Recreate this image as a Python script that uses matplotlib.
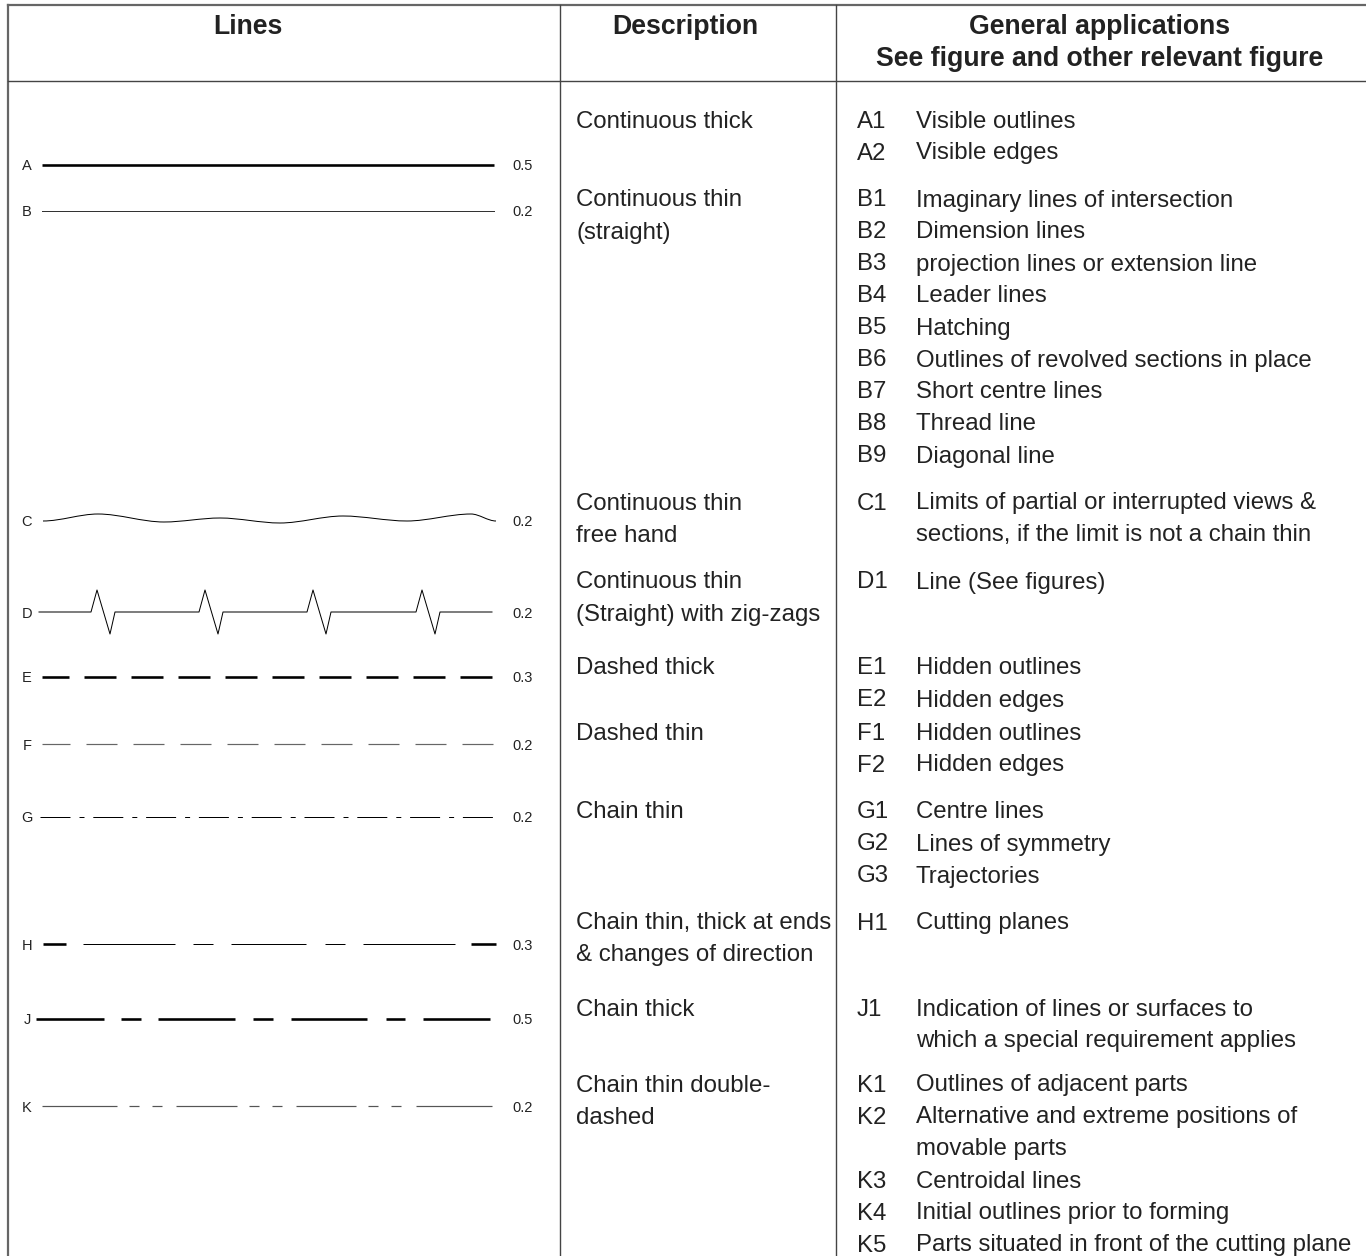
import numpy as np
import matplotlib
matplotlib.use("Agg")
import matplotlib.pyplot as plt
from matplotlib.path import Path
from matplotlib.patches import PathPatch

plt.rcParams['font.family'] = ['Liberation Sans', 'DejaVu Sans']
plt.rcParams['lines.scale_dashes'] = False

# ---------------- data ----------------
line_codes = ['A', 'B', 'C', 'D', 'E', 'F', 'G', 'H', 'J', 'K']
line_weights = ['0.5', '0.2', '0.2', '0.2', '0.3', '0.2', '0.2', '0.3', '0.5', '0.2']

descriptions = [
    ['Continuous thick'],
    ['Continuous thin', '(straight)'],
    ['Continuous thin', 'free hand'],
    ['Continuous thin', '(Straight) with zig-zags'],
    ['Dashed thick'],
    ['Dashed thin'],
    ['Chain thin'],
    ['Chain thin, thick at ends', '& changes of direction'],
    ['Chain thick'],
    ['Chain thin double-', 'dashed'],
]

applications = [
    [('A1', 'Visible outlines'), ('A2', 'Visible edges')],
    [('B1', 'Imaginary lines of intersection'), ('B2', 'Dimension lines'),
     ('B3', 'projection lines or extension line'), ('B4', 'Leader lines'),
     ('B5', 'Hatching'), ('B6', 'Outlines of revolved sections in place'),
     ('B7', 'Short centre lines'), ('B8', 'Thread line'), ('B9', 'Diagonal line')],
    [('C1', 'Limits of partial or interrupted views &'),
     ('', 'sections, if the limit is not a chain thin')],
    [('D1', 'Line (See figures)')],
    [('E1', 'Hidden outlines'), ('E2', 'Hidden edges')],
    [('F1', 'Hidden outlines'), ('F2', 'Hidden edges')],
    [('G1', 'Centre lines'), ('G2', 'Lines of symmetry'), ('G3', 'Trajectories')],
    [('H1', 'Cutting planes')],
    [('J1', 'Indication of lines or surfaces to'),
     ('', 'which a special requirement applies')],
    [('K1', 'Outlines of adjacent parts'),
     ('K2', 'Alternative and extreme positions of'), ('', 'movable parts'),
     ('K3', 'Centroidal lines'), ('K4', 'Initial outlines prior to forming'),
     ('K5', 'Parts situated in front of the cutting plane')],
]

# free hand wave (extrema) and zig-zag positions
wave_x = [43, 98, 164, 220, 280, 343, 407, 471, 496]
wave_dy = [1, -6, 2, -2, 3, -4, 1, -6, 1]
zigzag_x = [91, 199, 307, 416]

# ---------------- layout (pixels) ----------------
W, H = 1366, 1256
row_y = [165, 211, 520, 612, 677, 744, 817, 944, 1019, 1106]
text_y = [119, 198, 501, 580, 666, 731, 810, 921, 1007, 1083]
x0, x1 = 42, 494
step = 32
fs = 17.3
hfs = 19.2
px = 0.72  # px -> pt at dpi 100
thick, thin = 2.6 * px, 1.0 * px
ink = '#222222'

fig = plt.figure(figsize=(W / 100, H / 100), dpi=100)
ax = fig.add_axes([0, 0, 1, 1])
ax.set_xlim(0, W)
ax.set_ylim(H, 0)
ax.axis('off')

# table frame
frame = dict(color='#444444', lw=1.0)
ax.plot([8, W], [5, 5], color='#666666', lw=1.6)
ax.plot([8, 8], [5, H], color='#666666', lw=1.6)
ax.plot([8, W], [81, 81], **frame)
ax.plot([560, 560], [5, H], **frame)
ax.plot([836, 836], [5, H], **frame)

# headers
hd = dict(fontsize=hfs, fontweight='bold', ha='center', va='baseline', color=ink)
ax.text(248, 34, 'Lines', **hd)
ax.text(685, 34, 'Description', **hd)
ax.text(1100, 34, 'General applications', **hd)
ax.text(1100, 66, 'See figure and other relevant figure', **hd)


def dashed(y, xa, xb, seq, lw, color='black'):
    ln, = ax.plot([xa, xb], [y, y], color=color, lw=lw, solid_capstyle='butt')
    ln.set_dashes([v * px for v in seq])
    ln.set_dash_capstyle('butt')
    return ln


for i, code in enumerate(line_codes):
    y = row_y[i]
    ax.text(27, y + 5.5, code, fontsize=10.5, ha='center', va='baseline', color=ink)
    ax.text(523, y + 5.5, line_weights[i], fontsize=10.5, ha='center', va='baseline', color=ink)

    if code == 'A':
        ax.plot([x0, x1], [y, y], color='black', lw=thick, solid_capstyle='butt')
    elif code == 'B':
        ax.plot([x0, x1], [y, y], color='#333333', lw=thin)
    elif code == 'C':
        verts = [(wave_x[0], y + wave_dy[0])]
        codes = [Path.MOVETO]
        for k in range(1, len(wave_x)):
            xa, ya = wave_x[k - 1], y + wave_dy[k - 1]
            xb, yb = wave_x[k], y + wave_dy[k]
            d = (xb - xa) / 3
            verts += [(xa + d, ya), (xb - d, yb), (xb, yb)]
            codes += [Path.CURVE4] * 3
        ax.add_patch(PathPatch(Path(verts, codes), fill=False, lw=thin, edgecolor='black'))
    elif code == 'D':
        xs, ys = [x0 - 3], [y]
        for z in zigzag_x:
            xs += [z, z + 6, z + 19, z + 24]
            ys += [y, y - 22, y + 22, y]
        xs.append(x1 - 2)
        ys.append(y)
        ax.plot(xs, ys, color='black', lw=thin)
    elif code == 'E':
        dashed(y, x0, x1, [27, 15] + [32, 15] * 8 + [32, 200], thick)
    elif code == 'F':
        dashed(y, x0, x1, [28, 16] + [31, 16] * 8 + [31, 200], thin * 1.2, '#666666')
    elif code == 'G':
        dashed(y, 40, 493, [30, 9, 5, 8.8] * 8 + [30, 200], thin)
    elif code == 'H':
        ax.plot([43, 66], [y, y], color='black', lw=thick, solid_capstyle='butt')
        ax.plot([471, 496], [y, y], color='black', lw=thick, solid_capstyle='butt')
        dashed(y, 83, 455, [92, 18, 20, 18, 75, 19, 20, 18, 92, 200], thin)
    elif code == 'J':
        dashed(y, 36, 490, [68, 17, 20, 17, 77, 18, 20, 18, 76, 19, 19, 18, 67, 200], thick)
    elif code == 'K':
        gaps = [12, 10, 13, 10, 14]
        dashed(y, 42, 492, [75] + gaps + [61] + gaps + [60] + gaps[:4] + [15, 76, 200],
               thin * 1.2, '#555555')

# description and applications columns
for i, desc in enumerate(descriptions):
    y = text_y[i]
    for k, t in enumerate(desc):
        ax.text(576, y + step * k + 8.5, t, fontsize=fs, va='baseline', color=ink)
    for k, (c, t) in enumerate(applications[i]):
        yy = y + step * k + 8.5
        if c:
            ax.text(857, yy, c, fontsize=fs, va='baseline', color=ink)
        ax.text(916, yy, t, fontsize=fs, va='baseline', color=ink)

fig.savefig('out.png', dpi=100)
